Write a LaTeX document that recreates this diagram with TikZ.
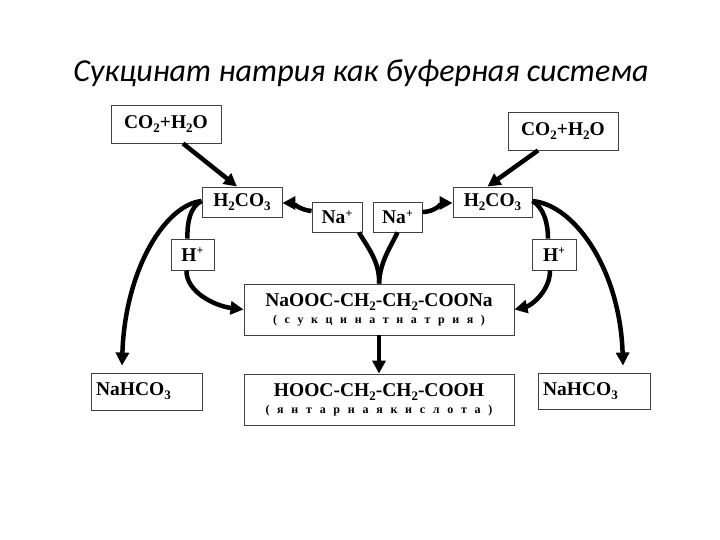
\documentclass[tikz,border=0pt]{standalone}
\usepackage{fontspec}
\setmainfont{Liberation Serif}
\newfontfamily\titlefont{Carlito}
\usetikzlibrary{arrows.meta,calc}
\newcommand\sbs[1]{\raisebox{-0.45ex}{\fontsize{13}{13}\selectfont #1}}
\newcommand\sps[1]{\raisebox{0.7ex}{\fontsize{12}{12}\selectfont #1}}
\newcommand\smalltxt{\fontsize{12}{13}\selectfont\bfseries}
\begin{document}
\begin{tikzpicture}[x=1pt,y=-1pt,
  box/.style={draw=black!75, line width=0.9pt, fill=white, inner sep=0pt,
    font=\fontsize{19.5}{22}\selectfont\bfseries},
  lbox/.style={box, align=left, inner xsep=5pt},
  conn/.style={line width=4.5pt, draw=black},
  arr/.style={conn, -{Triangle[length=13pt,width=13pt]}}]
\useasboundingbox[fill=white] (0,0) rectangle (720,540);

\node[font=\titlefont\itshape\fontsize{32}{36}\selectfont, anchor=base] (title) at (361,82) {Сукцинат натрия как буферная система};

% boxes
\node[box, minimum width=110pt, minimum height=38pt] (co2l) at (166,124) {CO\sbs{2}+H\sbs{2}O};
\node[box, minimum width=110pt, minimum height=38pt] (co2r) at (563,131) {CO\sbs{2}+H\sbs{2}O};
\node[box, minimum width=80pt, minimum height=30pt] (h2l) at (242,202) {H\sbs{2}CO\sbs{3}};
\node[box, minimum width=79pt, minimum height=30pt] (h2r) at (492.5,202) {H\sbs{2}CO\sbs{3}};
\node[box, minimum width=50pt, minimum height=30pt] (nal) at (337,217) {Na\sps{+}};
\node[box, minimum width=49pt, minimum height=30pt] (nar) at (397.5,217) {Na\sps{+}};
\node[box, minimum width=43pt, minimum height=31pt] (hpl) at (192.5,254.5) {H\sps{+}};
\node[box, minimum width=44pt, minimum height=31pt] (hpr) at (554,254.5) {H\sps{+}};
\node[box, minimum width=270pt, minimum height=51pt, align=center] (naooc) at (379,309.5)
  {NaOOC-CH\sbs{2}-CH\sbs{2}-COONa\\[-5pt]{\smalltxt\makebox[212pt][s]{( с у к ц и н а т н а т р и я )}}};
\node[box, minimum width=270pt, minimum height=51pt, align=center] (hooc) at (379,399.5)
  {HOOC-CH\sbs{2}-CH\sbs{2}-COOH\\[-5pt]{\smalltxt\makebox[227pt][s]{( я н т а р н а я к и с л о т а )}}};
\node[lbox, text width=101pt, minimum height=37pt] (nahl) at (146.5,391.5) {NaHCO\sbs{3}};
\node[lbox, text width=102pt, minimum height=36pt] (nahr) at (594,391) {NaHCO\sbs{3}};

% connectors
\draw[arr] ($(co2l.south)+(17,0)$) -- ($(h2l.north)+(-5,0)$);
\draw[arr] ($(co2r.south)+(-25,0)$) -- ($(h2r.north)+(-5,0)$);
\draw[arr] ($(nal.west)+(0,-6)$) .. controls (300,210) and (292,203) .. ($(h2l.east)+(0,1)$);
\draw[arr] ($(nar.east)+(0,-5)$) .. controls (435,212) and (443,203) .. ($(h2r.west)+(0,1)$);
\draw[conn] ($(nal.south)+(22,0)$) .. controls (368,248) and (380,262) .. (naooc.north);
\draw[conn] ($(nar.south)+(0,0)$) .. controls (390,248) and (380,262) .. (naooc.north);
\draw[arr] (naooc.south) -- (hooc.north);
% left side
\draw[arr] ($(h2l.west)+(0,-1)$) .. controls (165,205) and (125,270) .. ($(nahl.north)+(-24.5,-7)$);
\draw[conn] ($(h2l.west)+(0,-1)$) .. controls (190,207) and (187,222) .. ($(hpl.north)+(-5,0)$);
\draw[arr] ($(hpl.south)+(-6,0)$) .. controls (186,292) and (215,306) .. (naooc.west);
% right side
\draw[arr] ($(h2r.east)+(0,-1)$) .. controls (575,205) and (620,270) .. ($(nahr.north)+(29,-7)$);
\draw[conn] ($(h2r.east)+(0,-1)$) .. controls (543,207) and (548,222) .. ($(hpr.north)+(-6,0)$);
\draw[arr] ($(hpr.south)+(-4,0)$) .. controls (550,292) and (530,306) .. (naooc.east);
\end{tikzpicture}
\end{document}
